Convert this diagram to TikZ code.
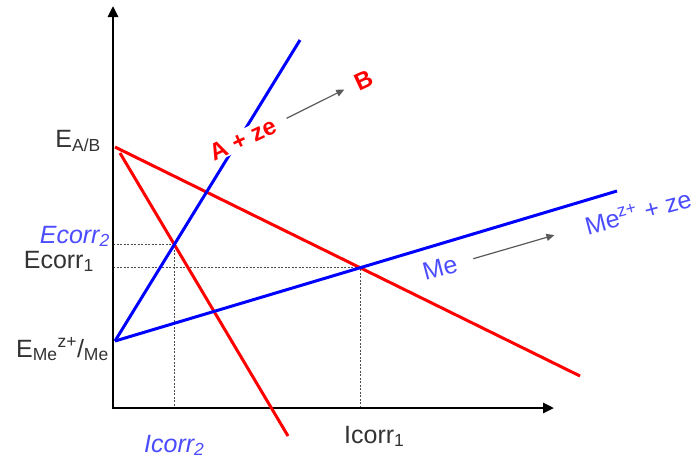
\documentclass[tikz,border=0pt]{standalone}
\usepackage{fontspec}
\setmainfont{Liberation Sans}
\usetikzlibrary{arrows.meta,positioning,calc}
\tikzset{
  ax/.style   = {line width=2.6pt, line cap=rect, -{Triangle[length=11pt,width=10pt]}},
  rln/.style  = {draw=red, line width=3pt},
  bln/.style  = {draw=blue, line width=3pt},
  hlp/.style  = {draw=black!70, line width=1pt, dash pattern=on 2pt off 1.5pt},
  lbl/.style  = {text=black!80, font=\fontsize{25}{29}\selectfont, inner sep=0pt},
  lblb/.style = {lbl, text=blue!70!white, font=\fontsize{25}{29}\selectfont\itshape},
  rxr/.style  = {text=red, fill=white, font=\fontsize{24}{28}\selectfont\bfseries, rotate=25, inner sep=1pt},
  rxb/.style  = {text=blue!70!white, font=\fontsize{25}{29}\selectfont, rotate=15, inner sep=0pt},
  sarr/.style = {draw=black!65, line width=1.2pt, -{Triangle[length=8pt,width=7pt]}},
}
\begin{document}
\begin{tikzpicture}[x=1pt,y=-1pt]
  \useasboundingbox (0,0) rectangle (698,459);
  \coordinate (o) at (113,408);
  \coordinate (ytip) at (113,6);
  \coordinate (xtip) at (554,408);
  \coordinate (eab) at (115,147);
  \coordinate (emz) at (115,341);
  \coordinate (r1e) at (580,376);
  \coordinate (r2s) at (120,153);
  \coordinate (r2e) at (288,436);
  \coordinate (b1e) at (300,40);
  \coordinate (b2e) at (617,191);
  \coordinate (ec2) at (intersection of r2s--r2e and emz--b1e);
  \coordinate (ec1) at (intersection of eab--r1e and emz--b2e);
  \draw[hlp] (ec2 -| o) -- (ec2) -- (ec2 |- o);
  \draw[hlp] (ec1 -| o) -- (ec1) -- (ec1 |- o);
  \draw[ax] (o) -- (ytip);
  \draw[ax] (o) -- (xtip);
  \draw[rln] (eab) -- (r1e);
  \draw[rln] (r2s) -- (r2e);
  \draw[bln] (emz) -- (b1e);
  \draw[bln] (emz) -- (b2e);
  \node[lbl, anchor=base east] (eabl) at (101,147) {E\textsubscript{A/B}};
  \node[lblb, anchor=base east] (ec2l) at (110,243) {Ecorr\textsubscript{2}};
  \node[lbl, anchor=base east] (ec1l) at (94,268) {Ecorr\textsubscript{1}};
  \node[lbl, anchor=base east] (emzl) at (109,357) {E\textsubscript{Me}\textsuperscript{z+}/\textsubscript{Me}};
  \node[lblb, anchor=base west] (ic2l) at (144,452) {Icorr\textsubscript{2}};
  \node[lbl, anchor=base west] (ic1l) at (344,443) {Icorr\textsubscript{1}};
  \node[rxr] (axe) at (243,139) {A + ze};
  \node[rxr, fill=none] (bb) at (364,80) {B};
  \draw[sarr, shorten <=12pt, shorten >=12pt] (axe.east) -- (bb.west);
  \node[rxb] (me) at (440,268) {Me};
  \node[rxb] (mez) at (638,212) {Me\textsuperscript{z+} + ze};
  \draw[sarr, shorten <=17pt, shorten >=32pt] (me.east) -- (mez.west);
\end{tikzpicture}
\end{document}
